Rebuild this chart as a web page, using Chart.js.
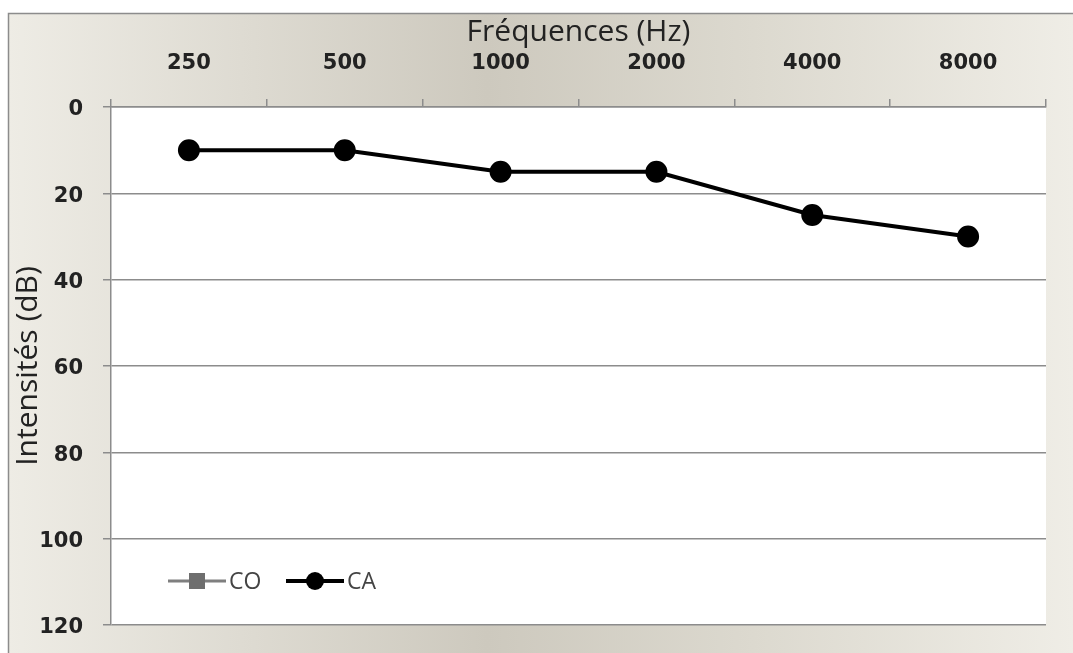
<!DOCTYPE html>
<html>
<head>
<meta charset="utf-8">
<script src="https://cdn.jsdelivr.net/npm/chart.js@4"></script>
<style>
  html, body { margin: 0; padding: 0; background: #fff; }
  #wrap { position: relative; width: 1073px; height: 653px; }
</style>
</head>
<body>
<div id="wrap"><canvas id="chart"></canvas></div>
<script>
const frequencies = ['250', '500', '1000', '2000', '4000', '8000'];
const caValues = [10, 10, 15, 15, 25, 30];
const coValues = [null, null, null, null, null, null];
const yTicks = [0, 20, 40, 60, 80, 100, 120];

// frame, gradient background and white plot area
const backdrop = {
  id: 'backdrop',
  beforeDraw(chart) {
    const { ctx, width, height, chartArea: a } = chart;
    ctx.save();
    ctx.fillStyle = '#fff';
    ctx.fillRect(0, 0, width, height);
    const g = ctx.createLinearGradient(8, 0, width, 0);
    g.addColorStop(0, '#eeece5');
    g.addColorStop(0.45, '#cdc9be');
    g.addColorStop(0.7, '#dcd9cf');
    g.addColorStop(1, '#efede6');
    ctx.fillStyle = g;
    ctx.fillRect(8, 13, width - 8, height - 13);
    ctx.strokeStyle = '#8c8c8c';
    ctx.lineWidth = 1.5;
    ctx.beginPath();
    ctx.moveTo(8.5, height);
    ctx.lineTo(8.5, 13.5);
    ctx.lineTo(width, 13.5);
    ctx.stroke();
    ctx.fillStyle = '#fff';
    ctx.fillRect(a.left, a.top, a.right - a.left, a.bottom - a.top);
    ctx.restore();
  }
};

// Excel-like legend: line + marker + label, inside the plot
const lineLegend = {
  id: 'lineLegend',
  afterDraw(chart) {
    const { ctx, chartArea: a } = chart;
    const y = a.bottom - 44;
    let x = a.left + 57;
    ctx.save();
    chart.data.datasets.forEach(ds => {
      ctx.strokeStyle = ds.borderColor;
      ctx.lineWidth = ds.borderWidth;
      ctx.beginPath();
      ctx.moveTo(x, y);
      ctx.lineTo(x + 58, y);
      ctx.stroke();
      ctx.fillStyle = ds.pointBackgroundColor;
      if (ds.pointStyle === 'rect') {
        ctx.fillRect(x + 21, y - 8, 16, 16);
      } else {
        ctx.beginPath();
        ctx.arc(x + 29, y, 9, 0, Math.PI * 2);
        ctx.fill();
      }
      ctx.fillStyle = '#444';
      ctx.font = '23px "Open Sans"';
      ctx.textBaseline = 'middle';
      ctx.fillText(ds.label, x + 61, y + 1);
      x += 118;
    });
    ctx.restore();
  }
};

new Chart(document.getElementById('chart'), {
  type: 'line',
  data: {
    labels: frequencies,
    datasets: [
      {
        label: 'CO',
        data: coValues,
        borderColor: '#7f7f7f',
        borderWidth: 3,
        pointStyle: 'rect',
        pointBackgroundColor: '#6e6e6e',
        pointBorderColor: '#6e6e6e',
        pointRadius: 8
      },
      {
        label: 'CA',
        data: caValues,
        borderColor: '#000',
        borderWidth: 4,
        pointStyle: 'circle',
        pointBackgroundColor: '#000',
        pointBorderColor: '#000',
        pointRadius: 9,
        tension: 0
      }
    ]
  },
  options: {
    responsive: true,
    maintainAspectRatio: false,
    animation: false,
    layout: { autoPadding: false, padding: { left: 0, top: 0, right: 27, bottom: 28 } },
    plugins: {
      legend: { display: false },
      tooltip: { enabled: false }
    },
    scales: {
      x: {
        position: 'top',
        offset: true,
        afterFit: s => { s.height = 107; s.paddingLeft = 0; s.paddingRight = 0; },
        grid: {
          offset: true,
          drawOnChartArea: false,
          drawTicks: true,
          tickLength: 8,
          color: '#8c8c8c',
          lineWidth: 1.5
        },
        border: { color: '#8c8c8c', width: 1.5 },
        ticks: {
          color: '#222',
          padding: 23,
          font: { family: 'DejaVu Sans', size: 21, weight: 'bold' },
          maxRotation: 0
        },
        title: {
          display: true,
          text: 'Fréquences (Hz)',
          color: '#222',
          font: { family: 'Open Sans', size: 30 },
          padding: { top: 14, bottom: 0 }
        }
      },
      y: {
        reverse: true,
        min: yTicks[0],
        max: yTicks[yTicks.length - 1],
        afterFit: s => { s.width = 111; s.paddingTop = 0; s.paddingBottom = 0; },
        afterBuildTicks: s => { s.ticks = yTicks.map(v => ({ value: v })); },
        grid: {
          color: '#8c8c8c',
          lineWidth: 1.5,
          tickLength: 8
        },
        border: { color: '#8c8c8c', width: 1.5 },
        ticks: {
          color: '#222',
          padding: 20,
          labelOffset: 3,
          font: { family: 'DejaVu Sans', size: 21, weight: 'bold' }
        },
        title: {
          display: true,
          text: 'Intensités (dB)',
          color: '#222',
          font: { family: 'Open Sans', size: 30 },
          padding: { top: 10, bottom: 0 }
        }
      }
    }
  },
  plugins: [backdrop, lineLegend]
});
</script>
</body>
</html>
